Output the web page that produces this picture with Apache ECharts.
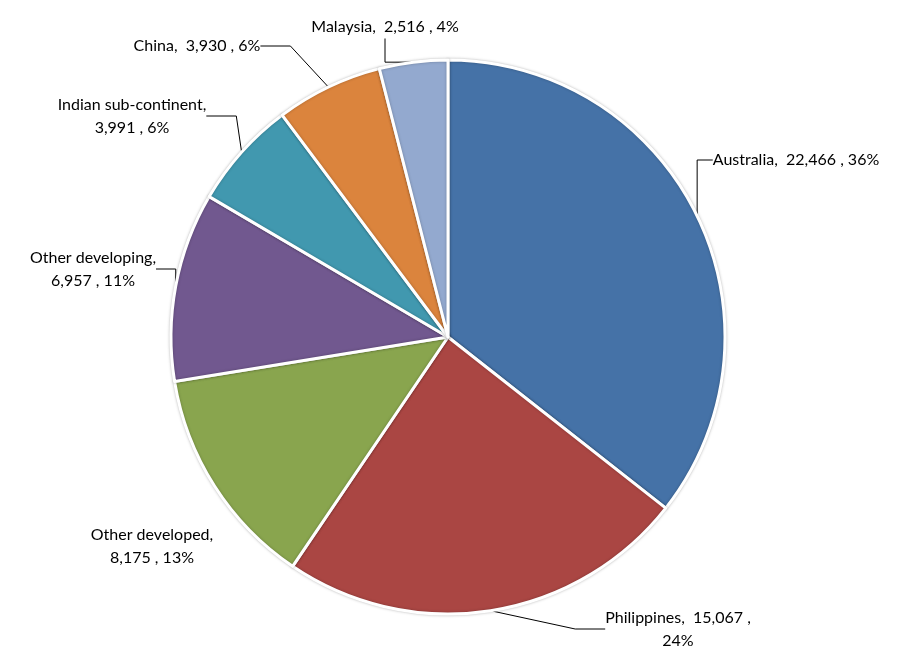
<!DOCTYPE html>
<html>
<head>
<meta charset="utf-8">
<script src="https://cdn.jsdelivr.net/npm/echarts@6/dist/echarts.min.js"></script>
<style>
  html, body { margin: 0; padding: 0; background: #fff; }
  #chart { width: 897px; height: 662px; }
</style>
</head>
<body>
<div id="chart"></div>
<script>
// data
const regions = ['Australia', 'Philippines', 'Other developed', 'Other developing',
  'Indian sub-continent', 'China', 'Malaysia']
const counts = [22466, 15067, 8175, 6957, 3991, 3930, 2516]

const colours = ['#4572A7', '#AA4643', '#89A54E', '#71588F', '#4198AF', '#DB843D', '#93A9CF']

// label placement (centre of the text block) and where the text wraps
// wrap: 0 = one line, 1 = break after name, 2 = break before percent
const labelPos = [[796, 160], [678, 629], [152, 546], [93, 269], [132, 116], [197, 46], [385, 27]]
const labelWrap = [0, 2, 1, 1, 1, 0, 0]
const showLine = [true, true, false, true, true, true, true]

const fmt = n => n.toLocaleString('en-US')

const chart = echarts.init(document.getElementById('chart'))

chart.setOption({
  animation: false,
  series: [{
    type: 'pie',
    center: [448, 337],
    radius: 277,
    startAngle: 90,
    clockwise: true,
    percentPrecision: 0,
    data: regions.map((name, i) => ({
      name: name,
      value: counts[i],
      itemStyle: { color: colours[i] },
      labelLine: { show: showLine[i] }
    })),
    itemStyle: {
      borderColor: '#fff',
      borderWidth: 3,
      shadowBlur: 3,
      shadowColor: 'rgba(0,0,0,0.25)'
    },
    label: {
      show: true,
      fontFamily: 'Lato',
      fontSize: 16,
      lineHeight: 23,
      color: '#000',
      overflow: 'none',
      formatter: p => {
        const w = labelWrap[p.dataIndex]
        const sep1 = w === 1 ? '\n' : '  '
        const sep2 = w === 2 ? '\n' : ' '
        return p.name + ',' + sep1 + fmt(p.value) + ' ,' + sep2 + p.percent + '%'
      }
    },
    labelLine: {
      show: true,
      lineStyle: { color: '#000', width: 1 }
    },
    labelLayout: p => ({
      x: labelPos[p.dataIndex][0],
      y: labelPos[p.dataIndex][1],
      align: 'center',
      verticalAlign: 'middle'
    })
  }]
})
</script>
</body>
</html>
